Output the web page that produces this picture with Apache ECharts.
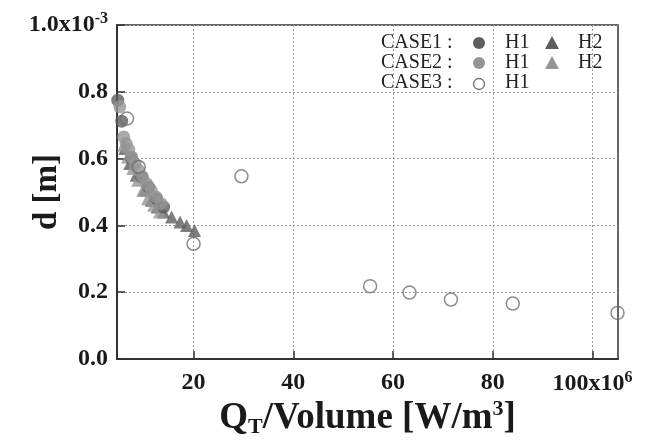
<!DOCTYPE html>
<html><head><meta charset="utf-8">
<script src="https://cdn.jsdelivr.net/npm/echarts@6/dist/echarts.min.js"></script>
<style>html,body{margin:0;padding:0;background:#fff}#c{width:656px;height:443px}</style>
</head><body><div id="c"></div>
<script>
// x: Q_T/Volume (x10^6 W/m^3), y: d (x10^-3 m)
const xTicks = [20, 40, 60, 80, 100];
const yTicks = [0, 0.2, 0.4, 0.6, 0.8, 1.0];
const case1H1 = [[4.8,0.775],[5.6,0.712],[7.6,0.60],[9.6,0.545],[11.0,0.515],[12.6,0.48],[14.0,0.455]];
const case2H1 = [[5.2,0.755],[6.0,0.665],[6.5,0.645],[7.0,0.628],[7.6,0.605],[8.3,0.585],[9.0,0.565],[9.8,0.545],[10.6,0.525],[11.5,0.505],[12.5,0.485],[13.5,0.465]];
const case1H2 = [[6.2,0.63],[7.2,0.585],[8.5,0.55],[10.2,0.505],[11.5,0.475],[12.7,0.455],[14.0,0.44],[15.6,0.425],[17.3,0.41],[18.6,0.40],[20.2,0.385]];
const case2H2 = [[6.0,0.64],[6.8,0.605],[7.8,0.57],[8.8,0.535],[9.8,0.505],[10.8,0.48],[12.0,0.46],[13.2,0.44]];
const case3H1 = [[6.65,0.72],[9.0,0.575],[20.0,0.345],[29.6,0.547],[55.4,0.218],[63.3,0.199],[71.6,0.178],[84.0,0.166],[105.0,0.138]];

const DARK = '#5e5e5e', LIGHT = '#959595', OPEN = '#6e6e6e';
const FONT = '"Liberation Serif","Times New Roman",serif';
const chart = echarts.init(document.getElementById('c'), null, {renderer:'canvas'});
const lblRich = {
  n: {fontFamily: FONT, fontWeight: 'bold', fontSize: 24, color: '#1a1a1a', lineHeight: 26},
  sup: {fontFamily: FONT, fontWeight: 'bold', fontSize: 16, color: '#1a1a1a', verticalAlign: 'top', padding: [0,0,12,0]}
};
chart.setOption({
  animation: false,
  grid: {left: 117, right: 38, top: 25, bottom: 84, outerBoundsMode: 'none', containLabel: false,
    show: true, borderColor: '#333', borderWidth: 1.5, backgroundColor: 'transparent'},
  xAxis: {
    type: 'value', min: 4.65, max: 105.1,
    axisLine: {show: true, onZero: false, lineStyle: {color: '#333', width: 2}},
    axisTick: {show: true, inside: true, length: 8, customValues: xTicks, lineStyle: {color: '#333', width: 1.5}},
    axisLabel: {customValues: xTicks, margin: 11,
      formatter: v => v === 100 ? '{n|100x10}{sup|6}' : '{n|' + v + '}', rich: lblRich},
    splitLine: {show: true, lineStyle: {color: '#9a9a9a', type: [2, 2], width: 1}},
    name: '{b|Q}{s|T}{b|/Volume [W/m}{p|3}{b|]}',
    nameLocation: 'middle', nameGap: 39, nameMoveOverlap: false,
    nameTextStyle: {rich: {
      b: {fontFamily: FONT, fontWeight: 'bold', fontSize: 37, color: '#1a1a1a', lineHeight: 40},
      s: {fontFamily: FONT, fontWeight: 'bold', fontSize: 22, color: '#1a1a1a', verticalAlign: 'bottom', padding: [16,0,0,0]},
      p: {fontFamily: FONT, fontWeight: 'bold', fontSize: 22, color: '#1a1a1a', verticalAlign: 'top', padding: [0,0,16,0]}
    }}
  },
  yAxis: {
    type: 'value', min: 0, max: 1.0, interval: 0.2,
    axisLine: {show: true, onZero: false, lineStyle: {color: '#333', width: 2}},
    axisTick: {show: true, inside: true, length: 8, lineStyle: {color: '#333', width: 1.5}},
    axisLabel: {margin: 9,
      formatter: v => Math.abs(v - 1) < 1e-9 ? '{n|1.0x10}{sup|-3}' : '{n|' + v.toFixed(1) + '}', rich: lblRich},
    splitLine: {show: true, lineStyle: {color: '#9a9a9a', type: [2, 2], width: 1}},
    name: 'd [m]', nameLocation: 'middle', nameGap: 53, nameRotate: 90, nameMoveOverlap: false,
    nameTextStyle: {fontFamily: FONT, fontWeight: 'bold', fontSize: 33, color: '#1a1a1a'}
  },
  series: [
    {type: 'scatter', data: case1H2, symbol: 'triangle', symbolSize: 13, itemStyle: {color: DARK}},
    {type: 'scatter', data: case2H2, symbol: 'triangle', symbolSize: 13, itemStyle: {color: LIGHT}},
    {type: 'scatter', data: case1H1, symbol: 'circle', symbolSize: 13, itemStyle: {color: DARK}},
    {type: 'scatter', data: case2H1, symbol: 'circle', symbolSize: 13, itemStyle: {color: LIGHT}},
    {type: 'scatter', data: case3H1, symbol: 'circle', symbolSize: 13, clip: false,
      itemStyle: {color: 'rgba(255,255,255,0)', borderColor: OPEN, borderWidth: 1.5}}
  ],
  graphic: [
    {type: 'group', left: 381, top: 33, children: [
      {type:'text', x:0, y:0, style:{text:'CASE1 :', font:'20px '+FONT, fill:'#222'}},
      {type:'circle', shape:{cx:98, cy:10, r:6}, style:{fill:DARK}},
      {type:'text', x:124, y:0, style:{text:'H1', font:'20px '+FONT, fill:'#222'}},
      {type:'polygon', shape:{points:[[171,3],[164,16],[178,16]]}, style:{fill:DARK}},
      {type:'text', x:197, y:0, style:{text:'H2', font:'20px '+FONT, fill:'#222'}},
      {type:'text', x:0, y:20, style:{text:'CASE2 :', font:'20px '+FONT, fill:'#222'}},
      {type:'circle', shape:{cx:98, cy:30, r:6}, style:{fill:LIGHT}},
      {type:'text', x:124, y:20, style:{text:'H1', font:'20px '+FONT, fill:'#222'}},
      {type:'polygon', shape:{points:[[171,23],[164,36],[178,36]]}, style:{fill:LIGHT}},
      {type:'text', x:197, y:20, style:{text:'H2', font:'20px '+FONT, fill:'#222'}},
      {type:'text', x:0, y:40, style:{text:'CASE3 :', font:'20px '+FONT, fill:'#222'}},
      {type:'circle', shape:{cx:98, cy:51, r:5.5}, style:{fill:'#fff', stroke:OPEN, lineWidth:1.3}},
      {type:'text', x:124, y:40, style:{text:'H1', font:'20px '+FONT, fill:'#222'}}
    ]}
  ]
});
</script></body></html>
